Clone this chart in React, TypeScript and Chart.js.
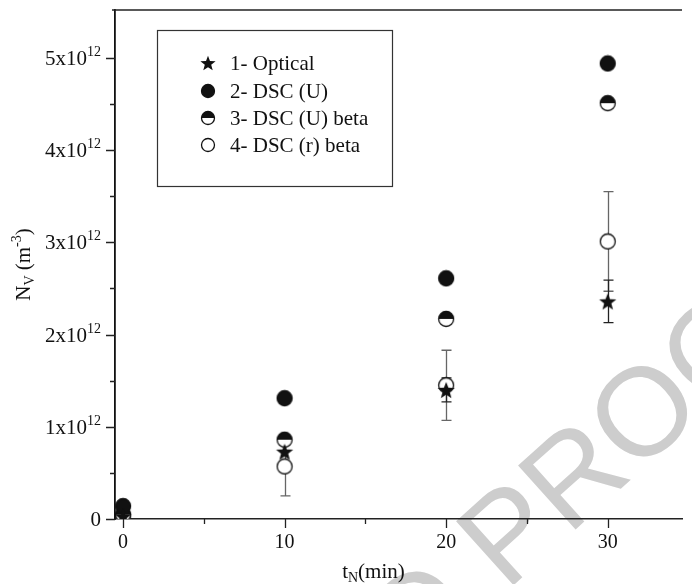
import React, { useEffect, useRef } from "react";
import { Chart, registerables } from "chart.js";

Chart.register(...registerables);

// ---- data ----
const timesMin = [0, 10, 20, 30];
const optical = [0.03e12, 0.73e12, 1.4e12, 2.36e12];
const opticalErr = [0, 0, 0.13e12, 0.23e12];
const dscU = [0.14e12, 1.31e12, 2.61e12, 4.94e12];
const dscUBeta = [0.05e12, 0.86e12, 2.17e12, 4.51e12];
const dscRBeta = [0.03e12, 0.57e12, 1.45e12, 3.01e12];
const dscRBetaErr = [0, 0.32e12, 0.38e12, 0.54e12];
const seriesLabels = ["1- Optical", "2- DSC (U)", "3- DSC (U) beta", "4- DSC (r) beta"];
const yMajorTicks = [0, 1e12, 2e12, 3e12, 4e12, 5e12];
const yMajorMantissa = ["0", "1", "2", "3", "4", "5"];
const yMinorTicks = [0.5e12, 1.5e12, 2.5e12, 3.5e12, 4.5e12];
const xMajorTicks = [0, 10, 20, 30];
const xMinorTicks = [5, 15, 25];

const SERIF = "'Liberation Serif', 'Times New Roman', serif";

function mk(size: number) {
  const c = document.createElement("canvas");
  c.width = size;
  c.height = size;
  return c;
}

function makeStar(r: number) {
  const s = Math.ceil(r * 2 + 2);
  const c = mk(s);
  const ctx = c.getContext("2d")!;
  ctx.translate(s / 2, s / 2 + r * 0.1);
  ctx.beginPath();
  for (let i = 0; i < 10; i++) {
    const rr = i % 2 === 0 ? r : r * 0.42;
    const a = -Math.PI / 2 + (i * Math.PI) / 5;
    ctx.lineTo(rr * Math.cos(a), rr * Math.sin(a));
  }
  ctx.closePath();
  ctx.fillStyle = "#111";
  ctx.fill();
  return c;
}

function makeCircle(r: number, kind: "filled" | "half" | "open") {
  const s = Math.ceil(r * 2 + 3);
  const c = mk(s);
  const ctx = c.getContext("2d")!;
  const cx = s / 2;
  ctx.beginPath();
  ctx.arc(cx, cx, r, 0, Math.PI * 2);
  ctx.fillStyle = kind === "filled" ? "#111" : "#fff";
  ctx.fill();
  if (kind === "half") {
    ctx.beginPath();
    ctx.arc(cx, cx, r, Math.PI, Math.PI * 2);
    ctx.closePath();
    ctx.fillStyle = "#111";
    ctx.fill();
  }
  ctx.beginPath();
  ctx.arc(cx, cx, r, 0, Math.PI * 2);
  ctx.lineWidth = 1.3;
  ctx.strokeStyle = "#111";
  ctx.stroke();
  return c;
}

export default function App() {
  const ref = useRef<HTMLCanvasElement | null>(null);

  useEffect(() => {
    if (!ref.current) return;
    const starImg = makeStar(9);
    const filledImg = makeCircle(7.5, "filled");
    const halfImg = makeCircle(7.5, "half");
    const openImg = makeCircle(7.5, "open");
    const legendImgs = [makeStar(8), makeCircle(6.5, "filled"), makeCircle(6.5, "half"), makeCircle(6.5, "open")];

    const toPts = (arr: number[]) => timesMin.map((x, i) => ({ x, y: arr[i] }));

    const watermark = {
      id: "watermark",
      beforeDraw(chart: any) {
        const ctx = chart.ctx;
        ctx.save();
        ctx.fillStyle = "#cdcdcd";
        ctx.font = "125px 'Liberation Sans', Arial, sans-serif";
        ctx.translate(506, 592);
        ctx.rotate((-42 * Math.PI) / 180);
        ctx.textBaseline = "alphabetic";
        ctx.textAlign = "left";
        ctx.fillText("PROOF", 0, 0);
        ctx.textAlign = "right";
        ctx.fillText("UNCORRECTED ", 0, 0);
        ctx.restore();
      },
    };

    const errorBars = {
      id: "errorBars",
      beforeDatasetsDraw(chart: any) {
        const ctx = chart.ctx;
        const xs = chart.scales.x;
        const ys = chart.scales.y;
        const draw = (vals: number[], errs: number[], color: string) => {
          ctx.save();
          ctx.strokeStyle = color;
          ctx.lineWidth = 1.3;
          timesMin.forEach((t, i) => {
            if (!errs[i]) return;
            const px = Math.round(xs.getPixelForValue(t)) + 0.5;
            const top = ys.getPixelForValue(vals[i] + errs[i]);
            const bot = ys.getPixelForValue(vals[i] - errs[i]);
            ctx.beginPath();
            ctx.moveTo(px, top);
            ctx.lineTo(px, bot);
            ctx.moveTo(px - 5, top);
            ctx.lineTo(px + 5, top);
            ctx.moveTo(px - 5, bot);
            ctx.lineTo(px + 5, bot);
            ctx.stroke();
          });
          ctx.restore();
        };
        draw(dscRBeta, dscRBetaErr, "#666");
        draw(optical, opticalErr, "#222");
      },
    };

    const axesDecor = {
      id: "axesDecor",
      afterDraw(chart: any) {
        const ctx = chart.ctx;
        const a = chart.chartArea;
        const xs = chart.scales.x;
        const ys = chart.scales.y;
        ctx.save();
        ctx.strokeStyle = "#222";
        ctx.lineWidth = 1.5;
        // top border
        ctx.beginPath();
        ctx.moveTo(a.left - 3, a.top);
        ctx.lineTo(a.right, a.top);
        ctx.stroke();
        // ticks
        ctx.lineWidth = 1.3;
        ctx.beginPath();
        yMajorTicks.forEach((v) => {
          const py = Math.round(ys.getPixelForValue(v)) + 0.5;
          ctx.moveTo(a.left - 9, py);
          ctx.lineTo(a.left, py);
        });
        yMinorTicks.forEach((v) => {
          const py = Math.round(ys.getPixelForValue(v)) + 0.5;
          ctx.moveTo(a.left - 5, py);
          ctx.lineTo(a.left, py);
        });
        xMajorTicks.forEach((v) => {
          const px = Math.round(xs.getPixelForValue(v)) + 0.5;
          ctx.moveTo(px, a.bottom);
          ctx.lineTo(px, a.bottom + 9);
        });
        xMinorTicks.forEach((v) => {
          const px = Math.round(xs.getPixelForValue(v)) + 0.5;
          ctx.moveTo(px, a.bottom);
          ctx.lineTo(px, a.bottom + 5);
        });
        ctx.stroke();

        ctx.fillStyle = "#111";
        ctx.textBaseline = "alphabetic";
        // y labels
        yMajorTicks.forEach((v, i) => {
          const py = ys.getPixelForValue(v);
          const right = a.left - 14;
          if (v === 0) {
            ctx.font = `21px ${SERIF}`;
            ctx.textAlign = "right";
            ctx.fillText(yMajorMantissa[i], right, py + 7);
            return;
          }
          ctx.font = `14px ${SERIF}`;
          const supW = ctx.measureText("12").width;
          ctx.textAlign = "left";
          ctx.fillText("12", right - supW, py - 2);
          ctx.font = `21px ${SERIF}`;
          ctx.textAlign = "right";
          ctx.fillText(yMajorMantissa[i] + "x10", right - supW, py + 7);
        });
        // x labels
        ctx.font = `20px ${SERIF}`;
        ctx.textAlign = "center";
        xMajorTicks.forEach((v) => {
          const px = xs.getPixelForValue(v);
          ctx.fillText(String(v), px, a.bottom + 29);
        });
        // x title
        {
          const cx = xs.getPixelForValue(15.5);
          const by = 578;
          ctx.font = `21px ${SERIF}`;
          const wT = ctx.measureText("t").width;
          const wM = ctx.measureText("(min)").width;
          ctx.font = `14px ${SERIF}`;
          const wN = ctx.measureText("N").width;
          const start = cx - (wT + wN + wM) / 2;
          ctx.textAlign = "left";
          ctx.font = `21px ${SERIF}`;
          ctx.fillText("t", start, by);
          ctx.font = `14px ${SERIF}`;
          ctx.fillText("N", start + wT, by + 4);
          ctx.font = `21px ${SERIF}`;
          ctx.fillText("(min)", start + wT + wN, by);
        }
        // y title
        {
          ctx.save();
          ctx.translate(30, (a.top + a.bottom) / 2);
          ctx.rotate(-Math.PI / 2);
          const parts: [string, number, number][] = [
            ["N", 21, 0],
            ["V", 14, 4],
            [" (m", 21, 0],
            ["-3", 14, -9],
            [")", 21, 0],
          ];
          let total = 0;
          parts.forEach(([t, s]) => {
            ctx.font = `${s}px ${SERIF}`;
            total += ctx.measureText(t).width;
          });
          let x = -total / 2;
          ctx.textAlign = "left";
          parts.forEach(([t, s, dy]) => {
            ctx.font = `${s}px ${SERIF}`;
            ctx.fillText(t, x, dy);
            x += ctx.measureText(t).width;
          });
          ctx.restore();
        }
        // legend
        {
          ctx.strokeStyle = "#333";
          ctx.lineWidth = 1.2;
          ctx.strokeRect(157.5, 30.5, 235, 156);
          ctx.font = `21px ${SERIF}`;
          ctx.textAlign = "left";
          ctx.textBaseline = "middle";
          const rows = [63, 91, 118, 145];
          seriesLabels.forEach((lbl, i) => {
            const img = legendImgs[i];
            ctx.drawImage(img, 208 - img.width / 2, rows[i] - img.height / 2);
            ctx.fillText(lbl, 230, rows[i] + 1);
          });
        }
        ctx.restore();
      },
    };

    const chart = new Chart(ref.current, {
      type: "scatter",
      data: {
        datasets: [
          { label: seriesLabels[0], data: toPts(optical), pointStyle: starImg as any, pointRadius: 9 },
          { label: seriesLabels[1], data: toPts(dscU), pointStyle: filledImg as any, pointRadius: 8 },
          { label: seriesLabels[2], data: toPts(dscUBeta), pointStyle: halfImg as any, pointRadius: 8 },
          { label: seriesLabels[3], data: toPts(dscRBeta), pointStyle: openImg as any, pointRadius: 8 },
        ],
      },
      options: {
        responsive: false,
        animation: false,
        layout: { padding: { top: 10, right: 0, left: 0, bottom: 0 } },
        plugins: { legend: { display: false }, tooltip: { enabled: false } },
        scales: {
          x: {
            type: "linear",
            min: -0.5,
            max: 34.6,
            grid: { display: false },
            ticks: { display: false },
            border: { display: true, color: "#222", width: 1.5 },
            afterFit: (s: any) => {
              s.height = 65;
            },
          },
          y: {
            type: "linear",
            min: 0,
            max: 5.52e12,
            grid: { display: false },
            ticks: { display: false },
            border: { display: true, color: "#111", width: 1.8 },
            afterFit: (s: any) => {
              s.width = 115;
            },
          },
        },
      },
      plugins: [watermark, errorBars, axesDecor],
    });
    return () => chart.destroy();
  }, []);

  return (
    <canvas
      ref={ref}
      width={692}
      height={584}
      style={{ position: "absolute", left: 0, top: 0, width: 692, height: 584, background: "#fff" }}
    />
  );
}
